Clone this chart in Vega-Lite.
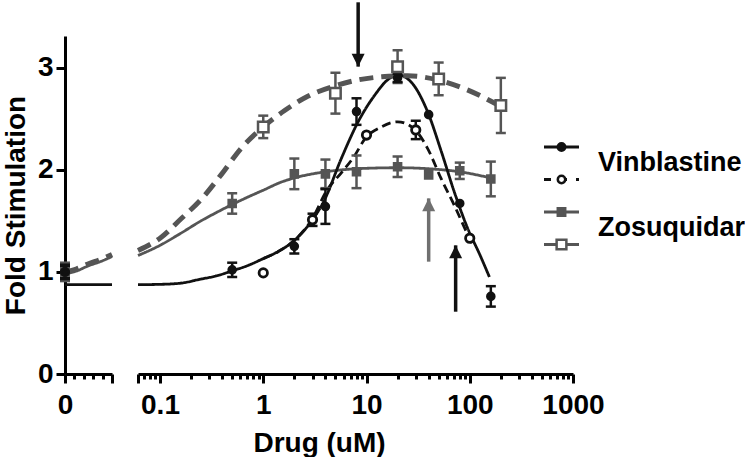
{
"$schema":"https://vega.github.io/schema/vega-lite/v6.json",
"background":"white",
"padding":{"left":2,"top":0,"right":0,"bottom":0},
"config":{
 "view":{"stroke":null},
 "font":"Liberation Sans",
 "axis":{"labelFont":"Liberation Sans","labelFontWeight":"bold","labelFontSize":28,"labelColor":"#000000","titleFont":"Liberation Sans","titleFontWeight":"bold","titleFontSize":28,"titleColor":"#000000","domainColor":"#000000","domainWidth":3,"tickColor":"#000000","tickWidth":3,"grid":false,"labelFlush":false,"labelOverlap":false}
},
"datasets":{
 "pts":[
  {"series":"Zosuquidar B","seg":"L","x":0,"y":1.0,"lo":0.92,"hi":1.08},
  {"series":"Zosuquidar A","seg":"L","x":0,"y":1.0,"lo":0.91,"hi":1.09},
  {"series":"Vinblastine B","seg":"L","x":0,"y":1.0,"lo":0.94,"hi":1.06},
  {"series":"Vinblastine A","seg":"L","x":0,"y":1.0,"lo":0.93,"hi":1.07},
  {"series":"Zosuquidar B","seg":"R","x":1,"y":2.42,"lo":2.31,"hi":2.53},
  {"series":"Zosuquidar B","seg":"R","x":5,"y":2.75,"lo":2.55,"hi":2.95},
  {"series":"Zosuquidar B","seg":"R","x":20,"y":3.01,"lo":2.85,"hi":3.17},
  {"series":"Zosuquidar B","seg":"R","x":50,"y":2.89,"lo":2.73,"hi":3.05},
  {"series":"Zosuquidar B","seg":"R","x":200,"y":2.63,"lo":2.36,"hi":2.90},
  {"series":"Zosuquidar A","seg":"R","x":0.5,"y":1.67,"lo":1.57,"hi":1.77},
  {"series":"Zosuquidar A","seg":"R","x":2,"y":1.96,"lo":1.81,"hi":2.11},
  {"series":"Zosuquidar A","seg":"R","x":4,"y":1.96,"lo":1.82,"hi":2.10},
  {"series":"Zosuquidar A","seg":"R","x":8,"y":1.98,"lo":1.82,"hi":2.14},
  {"series":"Zosuquidar A","seg":"R","x":20,"y":2.03,"lo":1.93,"hi":2.13},
  {"series":"Zosuquidar A","seg":"R","x":40,"y":1.95,"lo":null,"hi":null},
  {"series":"Zosuquidar A","seg":"R","x":80,"y":1.99,"lo":1.91,"hi":2.07},
  {"series":"Zosuquidar A","seg":"R","x":160,"y":1.91,"lo":1.74,"hi":2.08},
  {"series":"Vinblastine B","seg":"R","x":1,"y":0.99,"lo":null,"hi":null},
  {"series":"Vinblastine B","seg":"R","x":3,"y":1.51,"lo":1.45,"hi":1.57},
  {"series":"Vinblastine B","seg":"R","x":10,"y":2.34,"lo":null,"hi":null},
  {"series":"Vinblastine B","seg":"R","x":30,"y":2.39,"lo":2.30,"hi":2.48},
  {"series":"Vinblastine B","seg":"R","x":100,"y":1.33,"lo":null,"hi":null},
  {"series":"Vinblastine A","seg":"R","x":0.5,"y":1.02,"lo":0.95,"hi":1.09},
  {"series":"Vinblastine A","seg":"R","x":2,"y":1.25,"lo":1.18,"hi":1.32},
  {"series":"Vinblastine A","seg":"R","x":4,"y":1.64,"lo":1.47,"hi":1.81},
  {"series":"Vinblastine A","seg":"R","x":8,"y":2.57,"lo":2.44,"hi":2.70},
  {"series":"Vinblastine A","seg":"R","x":20,"y":2.9,"lo":2.86,"hi":2.94},
  {"series":"Vinblastine A","seg":"R","x":40,"y":2.54,"lo":null,"hi":null},
  {"series":"Vinblastine A","seg":"R","x":80,"y":1.67,"lo":null,"hi":null},
  {"series":"Vinblastine A","seg":"R","x":160,"y":0.76,"lo":0.66,"hi":0.86}
 ],
 "curves":[
  {"series":"Vinblastine A","seg":"L","x":0,"y":0.875},
  {"series":"Vinblastine A","seg":"L","x":0.05,"y":0.875},
  {"series":"Zosuquidar A","seg":"L","x":0,"y":0.98},
  {"series":"Zosuquidar A","seg":"L","x":0.0125,"y":1.01},
  {"series":"Zosuquidar A","seg":"L","x":0.025,"y":1.06},
  {"series":"Zosuquidar A","seg":"L","x":0.0375,"y":1.10},
  {"series":"Zosuquidar A","seg":"L","x":0.05,"y":1.15},
  {"series":"Zosuquidar B","seg":"L","x":0,"y":1.0},
  {"series":"Zosuquidar B","seg":"L","x":0.0125,"y":1.03},
  {"series":"Zosuquidar B","seg":"L","x":0.025,"y":1.08},
  {"series":"Zosuquidar B","seg":"L","x":0.0375,"y":1.12},
  {"series":"Zosuquidar B","seg":"L","x":0.05,"y":1.17},
  {"series":"Zosuquidar B","seg":"R","x":0.0612,"y":1.21},
  {"series":"Zosuquidar B","seg":"R","x":0.1,"y":1.33},
  {"series":"Zosuquidar B","seg":"R","x":0.16,"y":1.52},
  {"series":"Zosuquidar B","seg":"R","x":0.25,"y":1.71},
  {"series":"Zosuquidar B","seg":"R","x":0.39,"y":1.95},
  {"series":"Zosuquidar B","seg":"R","x":0.61,"y":2.21},
  {"series":"Zosuquidar B","seg":"R","x":1.0,"y":2.42},
  {"series":"Zosuquidar B","seg":"R","x":1.61,"y":2.58},
  {"series":"Zosuquidar B","seg":"R","x":2.7,"y":2.72},
  {"series":"Zosuquidar B","seg":"R","x":4.9,"y":2.82},
  {"series":"Zosuquidar B","seg":"R","x":8.3,"y":2.88},
  {"series":"Zosuquidar B","seg":"R","x":14,"y":2.91},
  {"series":"Zosuquidar B","seg":"R","x":25,"y":2.92},
  {"series":"Zosuquidar B","seg":"R","x":49,"y":2.88},
  {"series":"Zosuquidar B","seg":"R","x":96,"y":2.78},
  {"series":"Zosuquidar B","seg":"R","x":200,"y":2.62},
  {"series":"Zosuquidar A","seg":"R","x":0.0612,"y":1.16},
  {"series":"Zosuquidar A","seg":"R","x":0.1,"y":1.26},
  {"series":"Zosuquidar A","seg":"R","x":0.16,"y":1.38},
  {"series":"Zosuquidar A","seg":"R","x":0.25,"y":1.5},
  {"series":"Zosuquidar A","seg":"R","x":0.35,"y":1.58},
  {"series":"Zosuquidar A","seg":"R","x":0.5,"y":1.66},
  {"series":"Zosuquidar A","seg":"R","x":0.7,"y":1.73},
  {"series":"Zosuquidar A","seg":"R","x":1.0,"y":1.80},
  {"series":"Zosuquidar A","seg":"R","x":1.5,"y":1.88},
  {"series":"Zosuquidar A","seg":"R","x":2,"y":1.92},
  {"series":"Zosuquidar A","seg":"R","x":3,"y":1.96},
  {"series":"Zosuquidar A","seg":"R","x":4,"y":1.98},
  {"series":"Zosuquidar A","seg":"R","x":8,"y":2.01},
  {"series":"Zosuquidar A","seg":"R","x":20,"y":2.02},
  {"series":"Zosuquidar A","seg":"R","x":40,"y":2.01},
  {"series":"Zosuquidar A","seg":"R","x":80,"y":1.98},
  {"series":"Zosuquidar A","seg":"R","x":160,"y":1.92},
  {"series":"Vinblastine B","seg":"R","x":1.0,"y":1.13},
  {"series":"Vinblastine B","seg":"R","x":1.4,"y":1.2},
  {"series":"Vinblastine B","seg":"R","x":1.9,"y":1.29},
  {"series":"Vinblastine B","seg":"R","x":2.9,"y":1.50},
  {"series":"Vinblastine B","seg":"R","x":4.2,"y":1.81},
  {"series":"Vinblastine B","seg":"R","x":5.7,"y":1.97},
  {"series":"Vinblastine B","seg":"R","x":7.7,"y":2.14},
  {"series":"Vinblastine B","seg":"R","x":9.6,"y":2.30},
  {"series":"Vinblastine B","seg":"R","x":13.9,"y":2.42},
  {"series":"Vinblastine B","seg":"R","x":20,"y":2.47},
  {"series":"Vinblastine B","seg":"R","x":29,"y":2.40},
  {"series":"Vinblastine B","seg":"R","x":39,"y":2.21},
  {"series":"Vinblastine B","seg":"R","x":53,"y":1.91},
  {"series":"Vinblastine B","seg":"R","x":71,"y":1.65},
  {"series":"Vinblastine B","seg":"R","x":96,"y":1.36},
  {"series":"Vinblastine B","seg":"R","x":105,"y":1.28},
  {"series":"Vinblastine A","seg":"R","x":0.0612,"y":0.875},
  {"series":"Vinblastine A","seg":"R","x":0.1,"y":0.878},
  {"series":"Vinblastine A","seg":"R","x":0.16,"y":0.89},
  {"series":"Vinblastine A","seg":"R","x":0.25,"y":0.93},
  {"series":"Vinblastine A","seg":"R","x":0.35,"y":0.96},
  {"series":"Vinblastine A","seg":"R","x":0.5,"y":1.01},
  {"series":"Vinblastine A","seg":"R","x":0.7,"y":1.06},
  {"series":"Vinblastine A","seg":"R","x":1.0,"y":1.13},
  {"series":"Vinblastine A","seg":"R","x":1.4,"y":1.2},
  {"series":"Vinblastine A","seg":"R","x":1.9,"y":1.29},
  {"series":"Vinblastine A","seg":"R","x":2.9,"y":1.49},
  {"series":"Vinblastine A","seg":"R","x":3.9,"y":1.70},
  {"series":"Vinblastine A","seg":"R","x":5.7,"y":2.11},
  {"series":"Vinblastine A","seg":"R","x":8.3,"y":2.47},
  {"series":"Vinblastine A","seg":"R","x":12,"y":2.73},
  {"series":"Vinblastine A","seg":"R","x":16,"y":2.88},
  {"series":"Vinblastine A","seg":"R","x":20,"y":2.93},
  {"series":"Vinblastine A","seg":"R","x":27,"y":2.86},
  {"series":"Vinblastine A","seg":"R","x":39,"y":2.57},
  {"series":"Vinblastine A","seg":"R","x":53,"y":2.18},
  {"series":"Vinblastine A","seg":"R","x":71,"y":1.78},
  {"series":"Vinblastine A","seg":"R","x":96,"y":1.42},
  {"series":"Vinblastine A","seg":"R","x":125,"y":1.17},
  {"series":"Vinblastine A","seg":"R","x":155,"y":0.95}
 ],
 "arrows":[
  {"id":"top","x":8.3,"base":3.64,"tip":3.01},
  {"id":"gray","x":40,"base":1.10,"tip":1.72},
  {"id":"low","x":73,"base":0.61,"tip":1.26}
 ],
 "legend":[
  {"series":"Vinblastine A","label":"Vinblastine"},
  {"series":"Vinblastine B","label":""},
  {"series":"Zosuquidar A","label":"Zosuquidar"},
  {"series":"Zosuquidar B","label":""}
 ]
},
"spacing":26,
"bounds":"flush",
"hconcat":[
 {
  "width":47,"height":338,
  "resolve":{"axis":{"x":"independent"}},
  "layer":[
   {"data":{"name":"curves"},"transform":[{"filter":"datum.seg == 'L' && datum.series != 'Zosuquidar B'"}],
    "mark":{"type":"line","interpolate":"monotone","strokeWidth":2.8},
    "encoding":{
     "x":{"field":"x","type":"quantitative","scale":{"domain":[0,0.05],"nice":false,"zero":false},
          "axis":{"orient":"bottom","values":[0,0.05],"tickSize":9,"labelExpr":"datum.value == 0 ? '0' : ''","title":null,"labelPadding":8}},
     "y":{"field":"y","type":"quantitative","scale":{"domain":[0,3.31],"nice":false,"zero":false},
          "axis":{"values":[0,1,2,3],"format":"d","tickSize":9,"title":"Fold Stimulation","labelPadding":3,"titlePadding":6.5}},
     "stroke":{"field":"series","type":"nominal","legend":null,"scale":{"domain":["Vinblastine A","Vinblastine B","Zosuquidar A","Zosuquidar B"],"range":["#111111","#111111","#555555","#555555"]}},
     "strokeDash":{"field":"series","type":"nominal","legend":null,"scale":{"domain":["Vinblastine A","Vinblastine B","Zosuquidar A","Zosuquidar B"],"range":[[1,0],[9,5],[1,0],[14,8]]}}
    }},
   {"data":{"name":"curves"},"transform":[{"filter":"datum.seg == 'L' && datum.series == 'Zosuquidar B'"}],
    "mark":{"type":"line","interpolate":"monotone","strokeWidth":5},
    "encoding":{
     "x":{"field":"x","type":"quantitative","scale":{"domain":[0,0.05],"nice":false,"zero":false},"axis":null},
     "y":{"field":"y","type":"quantitative","scale":{"domain":[0,3.31],"nice":false,"zero":false}},
     "stroke":{"field":"series","type":"nominal","legend":null,"scale":{"domain":["Vinblastine A","Vinblastine B","Zosuquidar A","Zosuquidar B"],"range":["#111111","#111111","#555555","#555555"]}},
     "strokeDash":{"field":"series","type":"nominal","legend":null,"scale":{"domain":["Vinblastine A","Vinblastine B","Zosuquidar A","Zosuquidar B"],"range":[[1,0],[9,5],[1,0],[14,8]]}}
    }},
   {"data":{"name":"pts"},"transform":[{"filter":"datum.seg == 'L'"}],
    "mark":{"type":"rule","strokeWidth":2.5},
    "encoding":{
     "x":{"field":"x","type":"quantitative","scale":{"domain":[0,0.05],"nice":false,"zero":false},
          "axis":{"orient":"bottom","values":[0.01,0.02,0.03,0.04],"tickSize":5,"labels":false,"domain":false,"title":null}},
     "y":{"field":"lo","type":"quantitative","scale":{"domain":[0,3.31],"nice":false,"zero":false}},
     "y2":{"field":"hi"},
     "color":{"field":"series","type":"nominal","legend":null,"scale":{"domain":["Vinblastine A","Vinblastine B","Zosuquidar A","Zosuquidar B"],"range":["#111111","#111111","#555555","#555555"]}}
    }},
   {"data":{"name":"pts"},"transform":[{"filter":"datum.seg == 'L'"}],
    "mark":{"type":"tick","orient":"horizontal","size":10,"thickness":2.5,"opacity":1},
    "encoding":{
     "x":{"field":"x","type":"quantitative","scale":{"domain":[0,0.05],"nice":false,"zero":false},"axis":null},
     "y":{"field":"lo","type":"quantitative","scale":{"domain":[0,3.31],"nice":false,"zero":false}},
     "color":{"field":"series","type":"nominal","legend":null,"scale":{"domain":["Vinblastine A","Vinblastine B","Zosuquidar A","Zosuquidar B"],"range":["#111111","#111111","#555555","#555555"]}}
    }},
   {"data":{"name":"pts"},"transform":[{"filter":"datum.seg == 'L'"}],
    "mark":{"type":"tick","orient":"horizontal","size":10,"thickness":2.5,"opacity":1},
    "encoding":{
     "x":{"field":"x","type":"quantitative","scale":{"domain":[0,0.05],"nice":false,"zero":false},"axis":null},
     "y":{"field":"hi","type":"quantitative","scale":{"domain":[0,3.31],"nice":false,"zero":false}},
     "color":{"field":"series","type":"nominal","legend":null,"scale":{"domain":["Vinblastine A","Vinblastine B","Zosuquidar A","Zosuquidar B"],"range":["#111111","#111111","#555555","#555555"]}}
    }},
   {"data":{"name":"pts"},"transform":[{"filter":"datum.seg == 'L'"}],
    "mark":{"type":"point","opacity":1,"fillOpacity":1,"strokeWidth":2.5,"size":55},
    "encoding":{
     "x":{"field":"x","type":"quantitative","scale":{"domain":[0,0.05],"nice":false,"zero":false},"axis":null},
     "y":{"field":"y","type":"quantitative","scale":{"domain":[0,3.31],"nice":false,"zero":false}},
     "stroke":{"field":"series","type":"nominal","legend":null,"scale":{"domain":["Vinblastine A","Vinblastine B","Zosuquidar A","Zosuquidar B"],"range":["#111111","#111111","#555555","#555555"]}},
     "fill":{"field":"series","type":"nominal","legend":null,"scale":{"domain":["Vinblastine A","Vinblastine B","Zosuquidar A","Zosuquidar B"],"range":["#111111","#ffffff","#555555","#ffffff"]}},
     "shape":{"field":"series","type":"nominal","legend":null,"scale":{"domain":["Vinblastine A","Vinblastine B","Zosuquidar A","Zosuquidar B"],"range":["circle","circle","square","square"]}}
    }}
  ]
 },
 {
  "width":435,"height":338,
  "resolve":{"scale":{"x":"independent","y":"independent"}},
  "layer":[
   {
    "resolve":{"axis":{"x":"independent"}},
    "layer":[
     {"data":{"name":"curves"},"transform":[{"filter":"datum.seg == 'R' && datum.series != 'Zosuquidar B'"}],
      "mark":{"type":"line","interpolate":"monotone","strokeWidth":2.8},
      "encoding":{
       "x":{"field":"x","type":"quantitative","scale":{"type":"log","domain":[0.0612,1000],"nice":false},
            "axis":{"orient":"bottom","values":[0.0612,0.1,1,10,100,1000],"tickSize":9,"labelExpr":"datum.value < 0.09 ? '' : datum.value < 0.5 ? '0.1' : format(datum.value, 'd')","title":"Drug (uM)","titleX":181,"titlePadding":10,"labelPadding":8}},
       "y":{"field":"y","type":"quantitative","scale":{"domain":[0,3.31],"nice":false,"zero":false},"axis":null},
       "stroke":{"field":"series","type":"nominal","legend":null,"scale":{"domain":["Vinblastine A","Vinblastine B","Zosuquidar A","Zosuquidar B"],"range":["#111111","#111111","#555555","#555555"]}},
       "strokeDash":{"field":"series","type":"nominal","legend":null,"scale":{"domain":["Vinblastine A","Vinblastine B","Zosuquidar A","Zosuquidar B"],"range":[[1,0],[9,5],[1,0],[14,8]]}}
      }},
     {"data":{"name":"curves"},"transform":[{"filter":"datum.seg == 'R' && datum.series == 'Zosuquidar B'"}],
      "mark":{"type":"line","interpolate":"monotone","strokeWidth":5},
      "encoding":{
       "x":{"field":"x","type":"quantitative","scale":{"type":"log","domain":[0.0612,1000],"nice":false},
            "axis":{"orient":"bottom","values":[0.07,0.08,0.09,0.2,0.3,0.4,0.5,0.6,0.7,0.8,0.9,2,3,4,5,6,7,8,9,20,30,40,50,60,70,80,90,200,300,400,500,600,700,800,900],"tickSize":5,"labels":false,"domain":false,"title":null}},
       "y":{"field":"y","type":"quantitative","scale":{"domain":[0,3.31],"nice":false,"zero":false},"axis":null},
       "stroke":{"field":"series","type":"nominal","legend":null,"scale":{"domain":["Vinblastine A","Vinblastine B","Zosuquidar A","Zosuquidar B"],"range":["#111111","#111111","#555555","#555555"]}},
       "strokeDash":{"field":"series","type":"nominal","legend":null,"scale":{"domain":["Vinblastine A","Vinblastine B","Zosuquidar A","Zosuquidar B"],"range":[[1,0],[9,5],[1,0],[14,8]]}}
      }},
     {"data":{"name":"pts"},"transform":[{"filter":"datum.seg == 'R'"}],
      "mark":{"type":"rule","strokeWidth":2.5},
      "encoding":{
       "x":{"field":"x","type":"quantitative","scale":{"type":"log","domain":[0.0612,1000],"nice":false},"axis":null},
       "y":{"field":"lo","type":"quantitative","scale":{"domain":[0,3.31],"nice":false,"zero":false},"axis":null},
       "y2":{"field":"hi"},
       "color":{"field":"series","type":"nominal","legend":null,"scale":{"domain":["Vinblastine A","Vinblastine B","Zosuquidar A","Zosuquidar B"],"range":["#111111","#111111","#555555","#555555"]}}
      }},
     {"data":{"name":"pts"},"transform":[{"filter":"datum.seg == 'R'"}],
      "mark":{"type":"tick","orient":"horizontal","size":10,"thickness":2.5,"opacity":1},
      "encoding":{
       "x":{"field":"x","type":"quantitative","scale":{"type":"log","domain":[0.0612,1000],"nice":false},"axis":null},
       "y":{"field":"lo","type":"quantitative","scale":{"domain":[0,3.31],"nice":false,"zero":false},"axis":null},
       "color":{"field":"series","type":"nominal","legend":null,"scale":{"domain":["Vinblastine A","Vinblastine B","Zosuquidar A","Zosuquidar B"],"range":["#111111","#111111","#555555","#555555"]}}
      }},
     {"data":{"name":"pts"},"transform":[{"filter":"datum.seg == 'R'"}],
      "mark":{"type":"tick","orient":"horizontal","size":10,"thickness":2.5,"opacity":1},
      "encoding":{
       "x":{"field":"x","type":"quantitative","scale":{"type":"log","domain":[0.0612,1000],"nice":false},"axis":null},
       "y":{"field":"hi","type":"quantitative","scale":{"domain":[0,3.31],"nice":false,"zero":false},"axis":null},
       "color":{"field":"series","type":"nominal","legend":null,"scale":{"domain":["Vinblastine A","Vinblastine B","Zosuquidar A","Zosuquidar B"],"range":["#111111","#111111","#555555","#555555"]}}
      }},
     {"data":{"name":"pts"},"transform":[{"filter":"datum.seg == 'R' && (datum.series == 'Vinblastine A' || datum.series == 'Zosuquidar A')"}],
      "mark":{"type":"point","opacity":1,"fillOpacity":1,"strokeWidth":2.5,"size":50},
      "encoding":{
       "x":{"field":"x","type":"quantitative","scale":{"type":"log","domain":[0.0612,1000],"nice":false},"axis":null},
       "y":{"field":"y","type":"quantitative","scale":{"domain":[0,3.31],"nice":false,"zero":false},"axis":null},
       "stroke":{"field":"series","type":"nominal","legend":null,"scale":{"domain":["Vinblastine A","Vinblastine B","Zosuquidar A","Zosuquidar B"],"range":["#111111","#111111","#555555","#555555"]}},
       "fill":{"field":"series","type":"nominal","legend":null,"scale":{"domain":["Vinblastine A","Vinblastine B","Zosuquidar A","Zosuquidar B"],"range":["#111111","#ffffff","#555555","#ffffff"]}},
       "shape":{"field":"series","type":"nominal","legend":null,"scale":{"domain":["Vinblastine A","Vinblastine B","Zosuquidar A","Zosuquidar B"],"range":["circle","circle","square","square"]}}
      }},
     {"data":{"name":"pts"},"transform":[{"filter":"datum.seg == 'R' && datum.series == 'Vinblastine B'"}],
      "mark":{"type":"point","opacity":1,"fillOpacity":1,"strokeWidth":2.8,"size":70},
      "encoding":{
       "x":{"field":"x","type":"quantitative","scale":{"type":"log","domain":[0.0612,1000],"nice":false},"axis":null},
       "y":{"field":"y","type":"quantitative","scale":{"domain":[0,3.31],"nice":false,"zero":false},"axis":null},
       "stroke":{"field":"series","type":"nominal","legend":null,"scale":{"domain":["Vinblastine A","Vinblastine B","Zosuquidar A","Zosuquidar B"],"range":["#111111","#111111","#555555","#555555"]}},
       "fill":{"field":"series","type":"nominal","legend":null,"scale":{"domain":["Vinblastine A","Vinblastine B","Zosuquidar A","Zosuquidar B"],"range":["#111111","#ffffff","#555555","#ffffff"]}},
       "shape":{"field":"series","type":"nominal","legend":null,"scale":{"domain":["Vinblastine A","Vinblastine B","Zosuquidar A","Zosuquidar B"],"range":["circle","circle","square","square"]}}
      }},
     {"data":{"name":"pts"},"transform":[{"filter":"datum.seg == 'R' && datum.series == 'Zosuquidar B'"}],
      "mark":{"type":"point","opacity":1,"fillOpacity":1,"strokeWidth":2.5,"size":110},
      "encoding":{
       "x":{"field":"x","type":"quantitative","scale":{"type":"log","domain":[0.0612,1000],"nice":false},"axis":null},
       "y":{"field":"y","type":"quantitative","scale":{"domain":[0,3.31],"nice":false,"zero":false},"axis":null},
       "stroke":{"field":"series","type":"nominal","legend":null,"scale":{"domain":["Vinblastine A","Vinblastine B","Zosuquidar A","Zosuquidar B"],"range":["#111111","#111111","#555555","#555555"]}},
       "fill":{"field":"series","type":"nominal","legend":null,"scale":{"domain":["Vinblastine A","Vinblastine B","Zosuquidar A","Zosuquidar B"],"range":["#111111","#ffffff","#555555","#ffffff"]}},
       "shape":{"field":"series","type":"nominal","legend":null,"scale":{"domain":["Vinblastine A","Vinblastine B","Zosuquidar A","Zosuquidar B"],"range":["circle","circle","square","square"]}}
      }},
     {"data":{"name":"arrows"},"transform":[{"filter":"datum.id != 'gray'"}],
      "mark":{"type":"rule","strokeWidth":3.5,"color":"#111111"},
      "encoding":{
       "x":{"field":"x","type":"quantitative","scale":{"type":"log","domain":[0.0612,1000],"nice":false},"axis":null},
       "y":{"field":"base","type":"quantitative","scale":{"domain":[0,3.31],"nice":false,"zero":false},"axis":null},
       "y2":{"field":"tip"}
      }},
     {"data":{"name":"arrows"},"transform":[{"filter":"datum.id == 'gray'"}],
      "mark":{"type":"rule","strokeWidth":3.5,"color":"#707070"},
      "encoding":{
       "x":{"field":"x","type":"quantitative","scale":{"type":"log","domain":[0.0612,1000],"nice":false},"axis":null},
       "y":{"field":"base","type":"quantitative","scale":{"domain":[0,3.31],"nice":false,"zero":false},"axis":null},
       "y2":{"field":"tip"}
      }},
     {"data":{"name":"arrows"},"transform":[{"filter":"datum.id == 'top'"}],
      "mark":{"type":"point","shape":"M0,0L-1,-2L1,-2Z","size":169,"filled":true,"opacity":1,"color":"#111111","strokeWidth":0},
      "encoding":{
       "x":{"field":"x","type":"quantitative","scale":{"type":"log","domain":[0.0612,1000],"nice":false},"axis":null},
       "y":{"field":"tip","type":"quantitative","scale":{"domain":[0,3.31],"nice":false,"zero":false},"axis":null}
      }},
     {"data":{"name":"arrows"},"transform":[{"filter":"datum.id == 'low'"}],
      "mark":{"type":"point","shape":"M0,0L-1,2L1,2Z","size":169,"filled":true,"opacity":1,"color":"#111111","strokeWidth":0},
      "encoding":{
       "x":{"field":"x","type":"quantitative","scale":{"type":"log","domain":[0.0612,1000],"nice":false},"axis":null},
       "y":{"field":"tip","type":"quantitative","scale":{"domain":[0,3.31],"nice":false,"zero":false},"axis":null}
      }},
     {"data":{"name":"arrows"},"transform":[{"filter":"datum.id == 'gray'"}],
      "mark":{"type":"point","shape":"M0,0L-1,2L1,2Z","size":169,"filled":true,"opacity":1,"color":"#707070","strokeWidth":0},
      "encoding":{
       "x":{"field":"x","type":"quantitative","scale":{"type":"log","domain":[0.0612,1000],"nice":false},"axis":null},
       "y":{"field":"tip","type":"quantitative","scale":{"domain":[0,3.31],"nice":false,"zero":false},"axis":null}
      }}
    ]
   },
   {
    "data":{"name":"legend"},
    "layer":[
     {"transform":[{"filter":"datum.series != 'Vinblastine B'"}],
      "mark":{"type":"rule","strokeWidth":3},
      "encoding":{
       "x":{"datum":0,"type":"quantitative","scale":{"domain":[0,1],"range":[406,441]},"axis":null},
       "x2":{"datum":1},
       "y":{"field":"series","type":"nominal","scale":{"type":"point","domain":["Vinblastine A","Vinblastine B","Zosuquidar A","Zosuquidar B"],"range":[111,208.5],"padding":0},"axis":null},
       "color":{"field":"series","type":"nominal","legend":null,"scale":{"domain":["Vinblastine A","Vinblastine B","Zosuquidar A","Zosuquidar B"],"range":["#111111","#111111","#555555","#555555"]}}
      }},
     {"transform":[{"filter":"datum.series == 'Vinblastine B'"}],
      "mark":{"type":"rule","strokeWidth":3,"strokeDash":[7,9]},
      "encoding":{
       "x":{"datum":0,"type":"quantitative","axis":null},
       "x2":{"datum":1},
       "y":{"field":"series","type":"nominal","axis":null},
       "color":{"field":"series","type":"nominal","legend":null,"scale":{"domain":["Vinblastine A","Vinblastine B","Zosuquidar A","Zosuquidar B"],"range":["#111111","#111111","#555555","#555555"]}}
      }},
     {"transform":[{"filter":"datum.series != 'Zosuquidar B'"}],
      "mark":{"type":"point","opacity":1,"fillOpacity":1,"strokeWidth":2.5,"size":55},
      "encoding":{
       "x":{"datum":0.5,"type":"quantitative","axis":null},
       "y":{"field":"series","type":"nominal","axis":null},
       "stroke":{"field":"series","type":"nominal","legend":null,"scale":{"domain":["Vinblastine A","Vinblastine B","Zosuquidar A","Zosuquidar B"],"range":["#111111","#111111","#555555","#555555"]}},
       "fill":{"field":"series","type":"nominal","legend":null,"scale":{"domain":["Vinblastine A","Vinblastine B","Zosuquidar A","Zosuquidar B"],"range":["#111111","#ffffff","#555555","#ffffff"]}},
       "shape":{"field":"series","type":"nominal","legend":null,"scale":{"domain":["Vinblastine A","Vinblastine B","Zosuquidar A","Zosuquidar B"],"range":["circle","circle","square","square"]}}
      }},
     {"transform":[{"filter":"datum.series == 'Zosuquidar B'"}],
      "mark":{"type":"point","opacity":1,"fillOpacity":1,"strokeWidth":2.5,"size":95},
      "encoding":{
       "x":{"datum":0.5,"type":"quantitative","axis":null},
       "y":{"field":"series","type":"nominal","axis":null},
       "stroke":{"field":"series","type":"nominal","legend":null,"scale":{"domain":["Vinblastine A","Vinblastine B","Zosuquidar A","Zosuquidar B"],"range":["#111111","#111111","#555555","#555555"]}},
       "fill":{"field":"series","type":"nominal","legend":null,"scale":{"domain":["Vinblastine A","Vinblastine B","Zosuquidar A","Zosuquidar B"],"range":["#111111","#ffffff","#555555","#ffffff"]}},
       "shape":{"field":"series","type":"nominal","legend":null,"scale":{"domain":["Vinblastine A","Vinblastine B","Zosuquidar A","Zosuquidar B"],"range":["circle","circle","square","square"]}}
      }},
     {"transform":[{"filter":"datum.label != ''"}],
      "mark":{"type":"text","align":"left","baseline":"middle","dx":19,"dy":16,"font":"Liberation Sans","fontSize":27,"fontWeight":"bold","color":"#000000"},
      "encoding":{
       "x":{"datum":1,"type":"quantitative","axis":null},
       "y":{"field":"series","type":"nominal","axis":null},
       "text":{"field":"label"}
      }}
    ]
   }
  ]
 }
]
}
